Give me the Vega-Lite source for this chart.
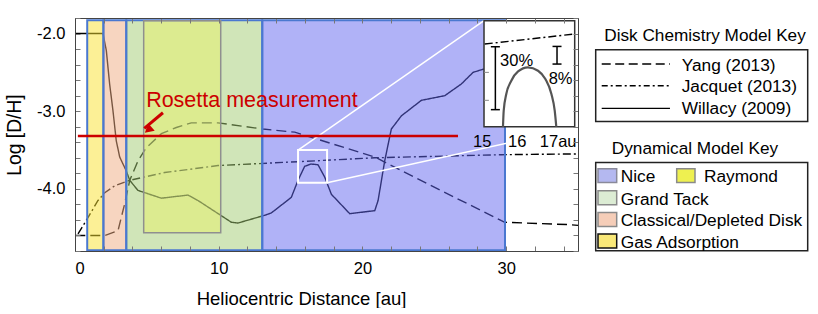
{
  "$schema": "https://vega.github.io/schema/vega-lite/v6.json",
  "padding": {"left": 5, "top": 17, "right": 0, "bottom": 0},
  "spacing": 10,
  "config": {
    "font": "Liberation Sans, Arial",
    "view": {"stroke": null},
    "axis": {"grid": false, "zindex": 1}
  },
  "datasets": {
    "chem": [
      {"model": "Yang (2013)", "x": 0.02, "y": -4.6},
      {"model": "Yang (2013)", "x": 2.07, "y": -4.6},
      {"model": "Yang (2013)", "x": 2.99, "y": -4.54},
      {"model": "Yang (2013)", "x": 3.46, "y": -4.19},
      {"model": "Yang (2013)", "x": 3.81, "y": -3.89},
      {"model": "Yang (2013)", "x": 4.38, "y": -3.64},
      {"model": "Yang (2013)", "x": 4.96, "y": -3.47},
      {"model": "Yang (2013)", "x": 6.01, "y": -3.29},
      {"model": "Yang (2013)", "x": 7.05, "y": -3.21},
      {"model": "Yang (2013)", "x": 8.09, "y": -3.15},
      {"model": "Yang (2013)", "x": 9.95, "y": -3.15},
      {"model": "Yang (2013)", "x": 13.08, "y": -3.23},
      {"model": "Yang (2013)", "x": 15.29, "y": -3.27},
      {"model": "Yang (2013)", "x": 20.86, "y": -3.59},
      {"model": "Yang (2013)", "x": 25.03, "y": -3.98},
      {"model": "Yang (2013)", "x": 29.67, "y": -4.41},
      {"model": "Yang (2013)", "x": 29.9, "y": -4.43},
      {"model": "Yang (2013)", "x": 34.31, "y": -4.46},
      {"model": "Yang (2013)", "x": 35, "y": -4.47},
      {"model": "Jacquet (2013)", "x": 0.21, "y": -4.58},
      {"model": "Jacquet (2013)", "x": 0.9, "y": -4.37},
      {"model": "Jacquet (2013)", "x": 1.6, "y": -4.15},
      {"model": "Jacquet (2013)", "x": 2.07, "y": -4.05},
      {"model": "Jacquet (2013)", "x": 2.76, "y": -3.96},
      {"model": "Jacquet (2013)", "x": 3.81, "y": -3.89},
      {"model": "Jacquet (2013)", "x": 6.24, "y": -3.79},
      {"model": "Jacquet (2013)", "x": 9.95, "y": -3.7},
      {"model": "Jacquet (2013)", "x": 15.52, "y": -3.65},
      {"model": "Jacquet (2013)", "x": 20.86, "y": -3.6},
      {"model": "Jacquet (2013)", "x": 29.67, "y": -3.56},
      {"model": "Jacquet (2013)", "x": 35, "y": -3.55},
      {"model": "Willacy (2009)", "x": 0, "y": -2.0},
      {"model": "Willacy (2009)", "x": 1.95, "y": -2.0},
      {"model": "Willacy (2009)", "x": 2.18, "y": -2.22},
      {"model": "Willacy (2009)", "x": 2.41, "y": -2.65},
      {"model": "Willacy (2009)", "x": 2.64, "y": -2.99},
      {"model": "Willacy (2009)", "x": 2.87, "y": -3.38},
      {"model": "Willacy (2009)", "x": 3.11, "y": -3.59},
      {"model": "Willacy (2009)", "x": 3.34, "y": -3.68},
      {"model": "Willacy (2009)", "x": 3.57, "y": -3.77},
      {"model": "Willacy (2009)", "x": 3.81, "y": -3.89},
      {"model": "Willacy (2009)", "x": 4.38, "y": -4.02},
      {"model": "Willacy (2009)", "x": 6.01, "y": -4.12},
      {"model": "Willacy (2009)", "x": 7.86, "y": -4.08},
      {"model": "Willacy (2009)", "x": 8.56, "y": -4.15},
      {"model": "Willacy (2009)", "x": 10.88, "y": -4.43},
      {"model": "Willacy (2009)", "x": 11.34, "y": -4.44},
      {"model": "Willacy (2009)", "x": 13.2, "y": -4.34},
      {"model": "Willacy (2009)", "x": 13.66, "y": -4.31},
      {"model": "Willacy (2009)", "x": 15.05, "y": -4.11},
      {"model": "Willacy (2009)", "x": 15.52, "y": -3.89},
      {"model": "Willacy (2009)", "x": 15.98, "y": -3.71},
      {"model": "Willacy (2009)", "x": 16.42, "y": -3.68},
      {"model": "Willacy (2009)", "x": 16.91, "y": -3.69},
      {"model": "Willacy (2009)", "x": 17.38, "y": -3.85},
      {"model": "Willacy (2009)", "x": 17.84, "y": -4.07},
      {"model": "Willacy (2009)", "x": 19.12, "y": -4.32},
      {"model": "Willacy (2009)", "x": 20.86, "y": -4.28},
      {"model": "Willacy (2009)", "x": 21.09, "y": -4.15},
      {"model": "Willacy (2009)", "x": 21.55, "y": -3.64},
      {"model": "Willacy (2009)", "x": 22.01, "y": -3.23},
      {"model": "Willacy (2009)", "x": 22.71, "y": -3.06},
      {"model": "Willacy (2009)", "x": 24.1, "y": -2.86},
      {"model": "Willacy (2009)", "x": 25.73, "y": -2.8},
      {"model": "Willacy (2009)", "x": 26.88, "y": -2.65},
      {"model": "Willacy (2009)", "x": 27.7, "y": -2.5},
      {"model": "Willacy (2009)", "x": 28.39, "y": -2.46},
      {"model": "Willacy (2009)", "x": 29.5, "y": -2.42}
    ],
    "regions": [
      {"name": "Gas Adsorption", "x": 0.85, "x2": 1.98, "y": -1.83, "y2": -4.79},
      {"name": "Classical/Depleted Disk", "x": 1.98, "x2": 3.57, "y": -1.83, "y2": -4.79},
      {"name": "Grand Tack", "x": 3.57, "x2": 13.03, "y": -1.83, "y2": -4.79},
      {"name": "Nice", "x": 13.03, "x2": 29.92, "y": -1.83, "y2": -4.79}
    ],
    "raymond": [{"name": "Raymond", "x": 4.78, "x2": 10.14, "y": -1.835, "y2": -4.564}],
    "wedge": [
      {"i": 1, "x": 15.52, "y": -3.5, "y2": -3.5},
      {"i": 2, "x": 17.54, "y": -3.24, "y2": -3.5},
      {"i": 3, "x": 17.54, "y": -3.24, "y2": -3.92},
      {"i": 4, "x": 28.46, "y": -1.835, "y2": -3.476},
      {"i": 5, "x": 35, "y": -1.835, "y2": -3.21}
    ],
    "wedgeEdges": [
      {"x": 15.52, "y": -3.5, "x2": 28.46, "y2": -1.835},
      {"x": 17.54, "y": -3.92, "x2": 35, "y2": -3.21}
    ],
    "zoomBox": [{"x": 15.52, "x2": 17.54, "y": -3.5, "y2": -3.92}],
    "inset": [{"x": 28.46, "x2": 34.77, "y": -1.835, "y2": -3.2}],
    "insetJacquet": [{"x": 28.51, "y": -2.135, "x2": 34.77, "y2": -2.006}],
    "insetTicks": [
      {"x": 28.46, "x2": 28.8, "y": -2.5},
      {"x": 28.46, "x2": 28.8, "y": -2.86}
    ],
    "arch": [
      {"x": 29.78, "y": -3.2},
      {"x": 29.83, "y": -2.994},
      {"x": 30.01, "y": -2.779},
      {"x": 30.36, "y": -2.607},
      {"x": 30.83, "y": -2.488},
      {"x": 31.52, "y": -2.436},
      {"x": 32.22, "y": -2.479},
      {"x": 32.73, "y": -2.586},
      {"x": 33.15, "y": -2.779},
      {"x": 33.38, "y": -2.994},
      {"x": 33.49, "y": -3.2}
    ],
    "errorBars": [
      {"x": 29.25, "y": -2.17, "y2": -2.98},
      {"x": 33.54, "y": -2.166, "y2": -2.393}
    ],
    "errorCaps": [
      {"x": 29.25, "y": -2.17},
      {"x": 29.25, "y": -2.98},
      {"x": 33.54, "y": -2.166},
      {"x": 33.54, "y": -2.393}
    ],
    "insetText": [
      {"label": "30%", "x": 29.58, "y": -2.414},
      {"label": "8%", "x": 32.96, "y": -2.65}
    ],
    "insetAxis": [
      {"label": "15", "x": 27.7, "y": -3.466},
      {"label": "16", "x": 30.13, "y": -3.466},
      {"label": "17au", "x": 32.34, "y": -3.466}
    ],
    "rosetta": [{"x": 0.2, "x2": 26.65, "y": -3.32, "label": "Rosetta measurement", "tx": 4.95, "ty": -2.95}],
    "arrow": [{"x": 6.12, "y": -3.02, "x2": 4.82, "y2": -3.22}],
    "arrowHead": [{"x": 5.09, "y": -3.24}],
    "legendBoxes": [
      {"x": 2.09, "x2": 96.31, "y": 13.6, "y2": 44.38},
      {"x": 2.09, "x2": 96.31, "y": 61.97, "y2": 99.9}
    ],
    "legendTitles": [
      {"label": "Disk Chemistry Model Key", "x": 50.67, "y": 9.74},
      {"label": "Dynamical Model Key", "x": 46.2, "y": 58.37}
    ],
    "legendLines": [
      {"model": "Yang (2013)", "x": 4.76, "x2": 35.1, "y": 19.74, "ty": 22.62},
      {"model": "Jacquet (2013)", "x": 4.76, "x2": 35.1, "y": 29.06, "ty": 31.93},
      {"model": "Willacy (2009)", "x": 4.76, "x2": 35.1, "y": 38.8, "ty": 41.2}
    ],
    "legendSwatches": [
      {"name": "Nice", "x": 3.11, "x2": 11.42, "y": 64.68, "y2": 70.56, "tx": 13.2},
      {"name": "Raymond", "x": 38.09, "x2": 46.22, "y": 64.68, "y2": 70.56, "tx": 50.22},
      {"name": "Grand Tack", "x": 3.11, "x2": 11.42, "y": 74.12, "y2": 80.13, "tx": 13.2},
      {"name": "Classical/Depleted Disk", "x": 3.11, "x2": 11.42, "y": 83.43, "y2": 89.44, "tx": 13.2},
      {"name": "Gas Adsorption", "x": 3.11, "x2": 11.42, "y": 92.7, "y2": 98.71, "tx": 13.2}
    ]
  },
  "resolve": {"scale": {"x": "independent", "y": "independent", "color": "independent", "stroke": "independent", "strokeDash": "independent"}},
  "hconcat": [
    {
      "width": 503,
      "height": 233,
      "resolve": {"axis": {"x": "independent", "y": "independent"}},
      "encoding": {
        "x": {"field": "x", "type": "quantitative", "scale": {"domain": [0, 35], "nice": false, "zero": false}, "axis": null},
        "y": {"field": "y", "type": "quantitative", "scale": {"domain": [-4.8, -1.8], "nice": false, "zero": false}, "axis": null}
      },
      "layer": [
        {
          "data": {"name": "raymond"},
          "mark": {"type": "rect", "color": "#ffffb4"},
          "encoding": {"x2": {"field": "x2"}, "y2": {"field": "y2"}}
        },
        {
          "data": {"name": "chem"},
          "mark": {"type": "line", "color": "#000000", "strokeWidth": 1.4},
          "encoding": {
            "x": {"field": "x", "type": "quantitative", "scale": {"domain": [0, 35], "nice": false, "zero": false},
              "axis": {"orient": "top", "values": [0,2,4,6,8,10,12,14,16,18,20,22,24,26,28,30,32,34], "labels": false, "tickSize": -5, "tickColor": "#777", "domainColor": "#444", "title": null, "zindex": 1}},
            "y": {"field": "y", "type": "quantitative", "scale": {"domain": [-4.8, -1.8], "nice": false, "zero": false},
              "axis": {"orient": "right", "values": [-4.8,-4.6,-4.4,-4.2,-4,-3.8,-3.6,-3.4,-3.2,-3,-2.8,-2.6,-2.4,-2.2,-2,-1.8], "labels": false, "tickSize": -5, "tickColor": "#777", "domainColor": "#444", "title": null, "zindex": 1}},
            "detail": {"field": "model"},
            "strokeDash": {"field": "model", "type": "nominal", "scale": {"domain": ["Yang (2013)", "Jacquet (2013)", "Willacy (2009)"], "range": [[10, 5], [8, 3, 2, 3], [1, 0]]}, "legend": null}
          }
        },
        {
          "data": {"name": "regions"},
          "mark": {"type": "rect", "fillOpacity": 0.5, "stroke": "#4a78d0", "strokeWidth": 2, "strokeOpacity": 1},
          "encoding": {
            "x": {"field": "x", "type": "quantitative", "scale": {"domain": [0, 35], "nice": false, "zero": false},
              "axis": {"orient": "bottom", "values": [0,2,4,6,8,10,12,14,16,18,20,22,24,26,28,30,32,34], "labelExpr": "datum.value % 10 == 0 ? datum.label : ''", "format": "d", "tickSize": -5, "tickColor": "#777", "domainColor": "#444", "labelFontSize": 16.5, "labelColor": "#000", "labelPadding": 14, "title": "Heliocentric Distance [au]", "titleFontSize": 18.5, "titleFontWeight": "normal", "titleColor": "#000", "titlePadding": 13, "titleX": 226, "zindex": 1}},
            "y": {"field": "y", "type": "quantitative", "scale": {"domain": [-4.8, -1.8], "nice": false, "zero": false},
              "axis": {"orient": "left", "values": [-4.8,-4.6,-4.4,-4.2,-4,-3.8,-3.6,-3.4,-3.2,-3,-2.8,-2.6,-2.4,-2.2,-2,-1.8], "labelExpr": "(datum.value == -2 || datum.value == -3 || datum.value == -4) ? '-' + format(-datum.value, '.1f') : ''", "tickSize": -5, "tickColor": "#777", "domainColor": "#444", "labelFontSize": 16.5, "labelColor": "#000", "labelPadding": 15, "title": "Log [D/H]", "titleFontSize": 19.3, "titleFontWeight": "normal", "titleColor": "#000", "titlePadding": 12, "zindex": 1}},
            "x2": {"field": "x2"},
            "y2": {"field": "y2"},
            "color": {"field": "name", "type": "nominal", "scale": {"domain": ["Gas Adsorption", "Classical/Depleted Disk", "Grand Tack", "Nice"], "range": ["#f9e12d", "#efab81", "#a1cb71", "#6165ef"]}, "legend": null}
          }
        },
        {
          "data": {"name": "raymond"},
          "mark": {"type": "rect", "fill": "#f8f98b", "fillOpacity": 0.3, "stroke": "#8f8f8f", "strokeWidth": 1.5, "strokeOpacity": 1},
          "encoding": {"x2": {"field": "x2"}, "y2": {"field": "y2"}}
        },
        {
          "data": {"name": "wedge"},
          "mark": {"type": "area", "color": {"gradient": "linear", "x1": 0, "y1": 0, "x2": 1, "y2": 0, "stops": [{"offset": 0, "color": "rgba(215,222,250,0.35)"}, {"offset": 1, "color": "rgba(210,222,250,0.85)"}]}},
          "encoding": {"y2": {"field": "y2"}, "order": {"field": "i", "type": "quantitative"}}
        },
        {
          "data": {"name": "wedgeEdges"},
          "mark": {"type": "rule", "color": "#ffffff", "strokeWidth": 1.5},
          "encoding": {"x2": {"field": "x2"}, "y2": {"field": "y2"}}
        },
        {
          "data": {"name": "zoomBox"},
          "mark": {"type": "rect", "fillOpacity": 0, "stroke": "#ffffff", "strokeWidth": 2},
          "encoding": {"x2": {"field": "x2"}, "y2": {"field": "y2"}}
        },
        {
          "data": {"name": "inset"},
          "mark": {"type": "rect", "color": "#ffffff", "stroke": "#333333", "strokeWidth": 1.5},
          "encoding": {"x2": {"field": "x2"}, "y2": {"field": "y2"}}
        },
        {
          "data": {"name": "insetTicks"},
          "mark": {"type": "rule", "color": "#888888", "strokeWidth": 1},
          "encoding": {"x2": {"field": "x2"}}
        },
        {
          "data": {"name": "insetJacquet"},
          "mark": {"type": "rule", "color": "#000000", "strokeWidth": 1.4, "strokeDash": [8, 3, 2, 3]},
          "encoding": {"x2": {"field": "x2"}, "y2": {"field": "y2"}}
        },
        {
          "data": {"name": "arch"},
          "mark": {"type": "line", "color": "#555555", "strokeWidth": 2.2, "interpolate": "monotone"},
          "encoding": {}
        },
        {
          "data": {"name": "errorBars"},
          "mark": {"type": "rule", "color": "#000000", "strokeWidth": 1.5},
          "encoding": {"y2": {"field": "y2"}}
        },
        {
          "data": {"name": "errorCaps"},
          "mark": {"type": "tick", "orient": "horizontal", "color": "#000000", "size": 9, "thickness": 1.5, "opacity": 1},
          "encoding": {}
        },
        {
          "data": {"name": "insetText"},
          "mark": {"type": "text", "align": "left", "baseline": "alphabetic", "fontSize": 16.5, "color": "#000000"},
          "encoding": {"text": {"field": "label"}}
        },
        {
          "data": {"name": "insetAxis"},
          "mark": {"type": "text", "align": "left", "baseline": "alphabetic", "fontSize": 16.5, "color": "#000000"},
          "encoding": {"text": {"field": "label"}}
        },
        {
          "data": {"name": "rosetta"},
          "mark": {"type": "rule", "color": "#cc0000", "strokeWidth": 2.5},
          "encoding": {"x2": {"field": "x2"}}
        },
        {
          "data": {"name": "rosetta"},
          "mark": {"type": "text", "align": "left", "baseline": "alphabetic", "fontSize": 21.5, "color": "#cc0000"},
          "encoding": {
            "x": {"field": "tx", "type": "quantitative", "scale": {"domain": [0, 35], "nice": false, "zero": false}, "axis": null},
            "y": {"field": "ty", "type": "quantitative", "scale": {"domain": [-4.8, -1.8], "nice": false, "zero": false}, "axis": null},
            "text": {"field": "label"}
          }
        },
        {
          "data": {"name": "arrow"},
          "mark": {"type": "rule", "color": "#cc0000", "strokeWidth": 3},
          "encoding": {"x2": {"field": "x2"}, "y2": {"field": "y2"}}
        },
        {
          "data": {"name": "arrowHead"},
          "mark": {"type": "point", "shape": "triangle-up", "angle": 229.4, "size": 100, "filled": true, "color": "#cc0000", "opacity": 1},
          "encoding": {}
        }
      ]
    },
    {
      "width": 225,
      "height": 233,
      "encoding": {
        "x": {"field": "x", "type": "quantitative", "scale": {"domain": [0, 100], "nice": false, "zero": false}, "axis": null},
        "y": {"field": "y", "type": "quantitative", "scale": {"domain": [0, 100], "nice": false, "zero": false, "reverse": true}, "axis": null}
      },
      "layer": [
        {
          "data": {"name": "legendBoxes"},
          "mark": {"type": "rect", "color": "#ffffff", "stroke": "#222222", "strokeWidth": 1.5, "clip": false},
          "encoding": {"x2": {"field": "x2"}, "y2": {"field": "y2"}}
        },
        {
          "data": {"name": "legendTitles"},
          "mark": {"type": "text", "align": "center", "baseline": "alphabetic", "fontSize": 17.2, "color": "#000000"},
          "encoding": {"text": {"field": "label"}}
        },
        {
          "data": {"name": "legendLines"},
          "mark": {"type": "rule", "color": "#000000", "strokeWidth": 1.4},
          "encoding": {
            "x2": {"field": "x2"},
            "strokeDash": {"field": "model", "type": "nominal", "scale": {"domain": ["Yang (2013)", "Jacquet (2013)", "Willacy (2009)"], "range": [[9, 4.5], [6, 3, 2, 3], [1, 0]]}, "legend": null}
          }
        },
        {
          "data": {"name": "legendLines"},
          "mark": {"type": "text", "align": "left", "baseline": "alphabetic", "fontSize": 17.3, "color": "#000000"},
          "encoding": {
            "x": {"datum": 40.31, "type": "quantitative"},
            "y": {"field": "ty", "type": "quantitative"},
            "text": {"field": "model"}
          }
        },
        {
          "data": {"name": "legendSwatches"},
          "mark": {"type": "rect", "strokeWidth": 1.5},
          "encoding": {
            "x2": {"field": "x2"},
            "y2": {"field": "y2"},
            "color": {"field": "name", "type": "nominal", "scale": {"domain": ["Nice", "Raymond", "Grand Tack", "Classical/Depleted Disk", "Gas Adsorption"], "range": ["#b4b8f0", "#eef050", "#dcecd4", "#f5cdb8", "#f9e878"]}, "legend": null},
            "stroke": {"field": "name", "type": "nominal", "scale": {"domain": ["Nice", "Raymond", "Grand Tack", "Classical/Depleted Disk", "Gas Adsorption"], "range": ["#8a8a9a", "#8a8a8a", "#8a8a8a", "#8a8a8a", "#111111"]}, "legend": null}
          }
        },
        {
          "data": {"name": "legendSwatches"},
          "mark": {"type": "text", "align": "left", "baseline": "alphabetic", "fontSize": 17.3, "color": "#000000"},
          "encoding": {
            "x": {"field": "tx", "type": "quantitative"},
            "y": {"field": "y2", "type": "quantitative"},
            "text": {"field": "name"}
          }
        }
      ]
    }
  ]
}
